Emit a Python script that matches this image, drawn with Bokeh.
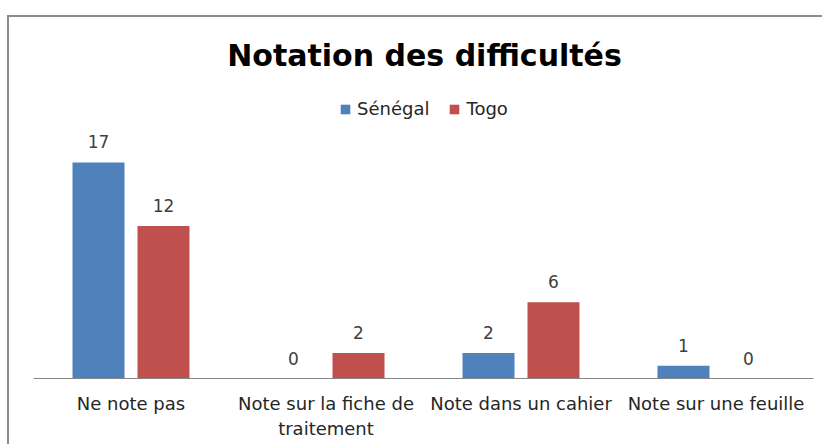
from bokeh.plotting import figure
from bokeh.models import ColumnDataSource, FactorRange, Range1d, LabelSet, Label, Legend, LegendItem
from bokeh.transform import dodge
from bokeh.embed import file_html
from bokeh.resources import INLINE
from bokeh.core.properties import value

# ---- data ----
categories = ["Ne note pas", "Note sur la fiche de\ntraitement", "Note dans un cahier", "Note sur une feuille"]
senegal = [17, 0, 2, 1]
togo = [12, 2, 6, 0]
series_names = ["Sénégal", "Togo"]
title_text = "Notation des difficultés"

BLUE = "#4F81BD"
RED = "#C0504D"
FONT = "DejaVu Sans"

src = ColumnDataSource(dict(
    cat=categories,
    sen=senegal,
    tog=togo,
    sen_txt=[str(v) for v in senegal],
    tog_txt=[str(v) for v in togo],
))

p = figure(
    width=815, height=431,
    x_range=FactorRange(factors=categories),
    y_range=Range1d(0, 28.4),
    y_axis_location=None,
    output_backend="svg", toolbar_location=None,
    min_border_left=24, min_border_right=11, min_border_top=0, min_border_bottom=70,
)
p.styles = {"margin-top": "15px", "margin-left": "7px", "margin-bottom": "-12px",
            "border-top": "2px solid #8c8c8c", "border-left": "2px solid #8c8c8c"}
p.outline_line_color = None
p.xgrid.visible = False
p.ygrid.visible = False

off = 1.0 / 6.0
bw = 52.0 / 195.0
r1 = p.vbar(x=dodge("cat", -off, range=p.x_range), top="sen", width=bw, source=src,
            fill_color=BLUE, line_color=None)
r2 = p.vbar(x=dodge("cat", off, range=p.x_range), top="tog", width=bw, source=src,
            fill_color=RED, line_color=None)

for col, txt, o in (("sen", "sen_txt", -off), ("tog", "tog_txt", off)):
    p.add_layout(LabelSet(x=dodge("cat", o, range=p.x_range), y=col, text=txt, source=src,
                          y_offset=14, text_align="center", text_baseline="alphabetic",
                          text_font=value(FONT), text_font_size="17px", text_color="#404040"))

ax = p.xaxis[0]
ax.axis_line_color = "#868686"
ax.axis_line_width = 1
ax.major_tick_line_color = None
ax.minor_tick_line_color = None
ax.major_tick_out = 0
ax.major_tick_in = 0
ax.major_label_standoff = 14
ax.major_label_text_font = FONT
ax.major_label_text_font_size = "18px"
ax.major_label_text_color = "#262626"
ax.major_label_text_line_height = 1.2

p.add_layout(Label(x=391, y=323, x_units="screen", y_units="screen", text=title_text,
                   text_align="center", text_baseline="alphabetic",
                   text_font=FONT, text_font_size="30px", text_font_style="bold",
                   text_color="#000000"))

legend = Legend(items=[LegendItem(label=series_names[0], renderers=[r1]),
                       LegendItem(label=series_names[1], renderers=[r2])],
                location=(306, 259), orientation="horizontal")
legend.glyph_width = 12
legend.glyph_height = 12
legend.label_standoff = 6
legend.spacing = 19
legend.padding = 0
legend.margin = 0
legend.border_line_color = None
legend.background_fill_alpha = 0
legend.label_text_font = FONT
legend.label_text_font_size = "18px"
legend.label_text_color = "#262626"
p.add_layout(legend)

open("out.html", "w").write(file_html(p, INLINE))
